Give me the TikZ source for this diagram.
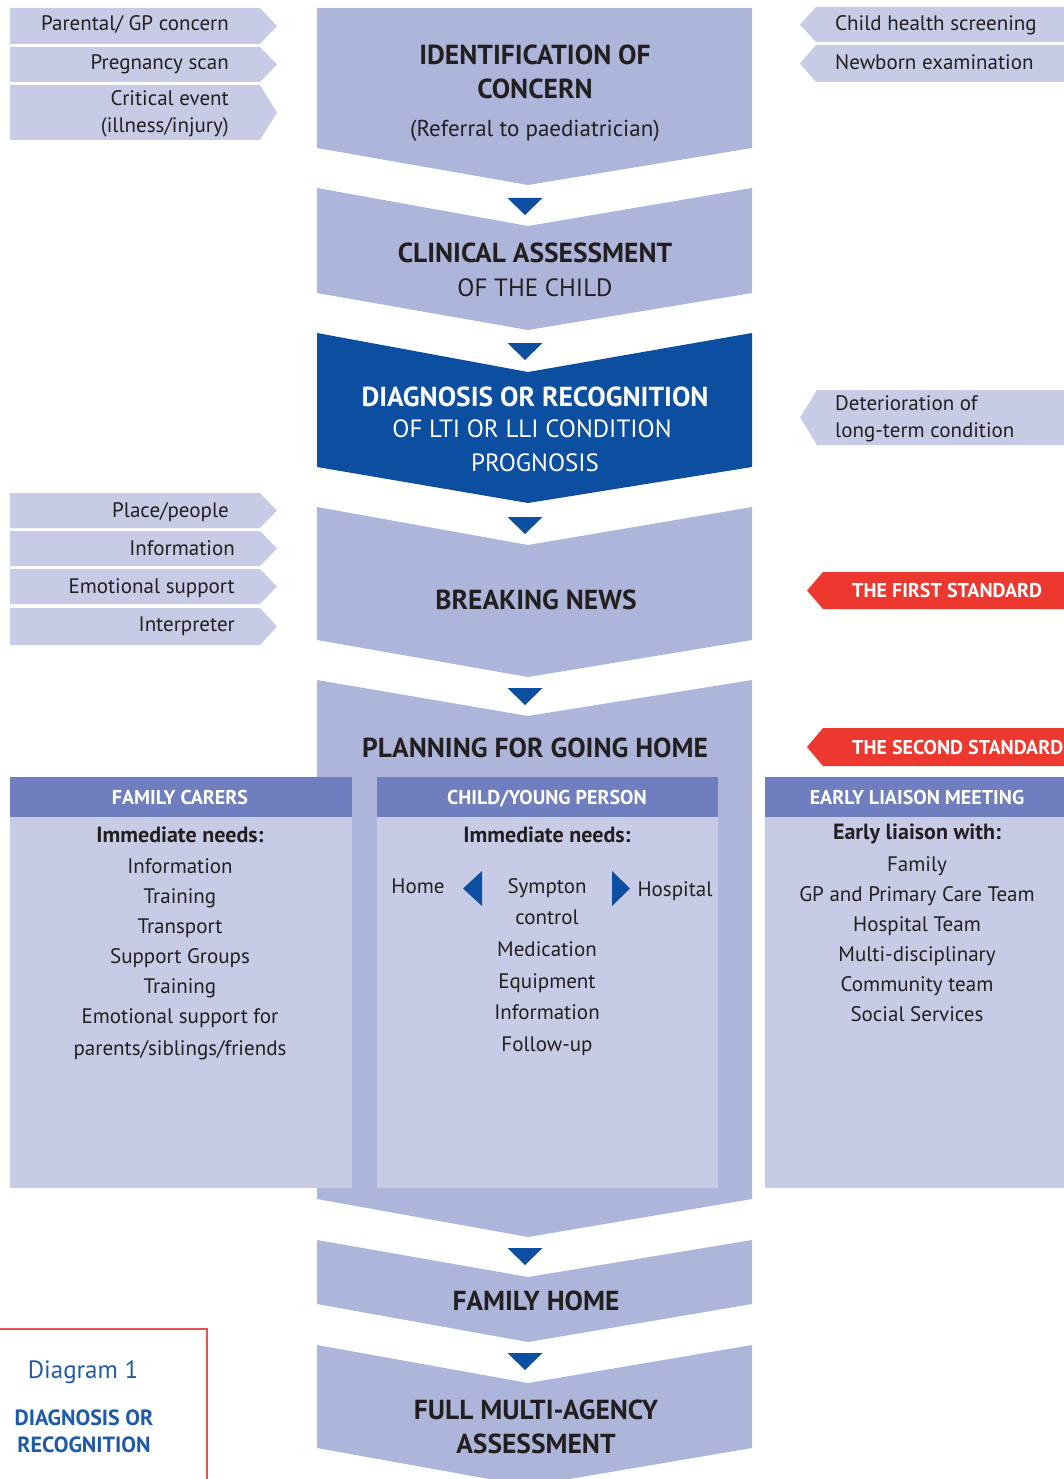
\documentclass[tikz,border=0pt]{standalone}
\usepackage{fontspec}
\setmainfont{PT Sans}
\definecolor{mainfill}{RGB}{174,181,219}
\definecolor{tagfill}{RGB}{199,203,230}
\definecolor{headfill}{RGB}{111,126,190}
\definecolor{darkblue}{RGB}{12,78,160}
\definecolor{redtag}{RGB}{237,56,48}
\definecolor{redline}{RGB}{238,80,80}
\definecolor{ink}{RGB}{35,31,32}
\definecolor{captionblue}{RGB}{30,90,166}

% chevron step of the main column: fill, top edge, notch, side bottom, point
\newcommand\chevstep[5]{\fill[#1] (317,#2) -- (528,#3) -- (752,#2) -- (752,#4) -- (528,#5) -- (317,#4) -- cycle;}
% small flow triangle below a notch
\newcommand\flowtri[1]{\fill[darkblue] (507.5,#1) -- (542.5,#1) -- (525,#1+17) -- cycle;}
% tag pointing right (left column)
\newcommand\tagleft[2]{\fill[tagfill] (10,#1) -- (260,#1) -- (277,{(#1+#2)/2}) -- (260,#2) -- (10,#2) -- cycle;}

\begin{document}
\begin{tikzpicture}[x=1pt,y=-1pt,
  lbl/.style={inner sep=0, text=ink, font=\fontsize{21}{27}\selectfont, text height=16.5pt, text depth=4.5pt},
  multi/.style={inner sep=0, text=ink, font=\fontsize{21}{27}\selectfont},
  head/.style={inner sep=0, text=ink, font=\fontsize{27.5}{32}\bfseries\selectfont, text height=19pt, text depth=1pt},
  headlight/.style={inner sep=0, text=ink, font=\fontsize{25}{30}\selectfont, text height=17.5pt, text depth=1pt},
  boxhead/.style={inner sep=0, text=white, font=\fontsize{20}{24}\bfseries\selectfont, text height=14pt, text depth=1pt},
  need/.style={inner sep=0, text=ink, font=\fontsize{22}{26}\bfseries\selectfont, text height=16pt, text depth=4.5pt},
  stdlbl/.style={inner sep=0, text=white, font=\fontsize{20}{24}\bfseries\selectfont, text height=14pt, text depth=1pt, anchor=west},
]
\useasboundingbox (0,0) rectangle (1064,1479);
\clip (0,0) rectangle (1064,1479);

% ---------- main column ----------
\fill[mainfill] (317,8) -- (752,8) -- (752,148) -- (528,185) -- (317,148) -- cycle;
\chevstep{mainfill}{188}{226}{293}{330}
\chevstep{darkblue}{333}{372}{467}{503}
\chevstep{mainfill}{507}{545}{640}{677}
\chevstep{mainfill}{680}{716}{1199}{1237}
\chevstep{mainfill}{1240}{1277}{1304}{1342}
\chevstep{mainfill}{1345}{1383}{1448}{1486}

\flowtri{198}
\flowtri{343}
\flowtri{517}
\flowtri{688}
\flowtri{1248}
\flowtri{1353}

\node[head] (id1) at (535,56) {IDENTIFICATION OF};
\node[head] (id2) at (535,90) {CONCERN};
\node[lbl, font=\fontsize{23}{27}\selectfont] (id3) at (535,131) {(Referral to paediatrician)};

\node[head] (ca1) at (535,253) {CLINICAL ASSESSMENT};
\node[headlight] (ca2) at (535,288) {OF THE CHILD};

\node[head, text=white] (dg1) at (535,397) {DIAGNOSIS OR RECOGNITION};
\node[headlight, text=white] (dg2) at (532,429) {OF LTI OR LLI CONDITION};
\node[headlight, text=white] (dg3) at (535,463) {PROGNOSIS};

\node[head] (bn) at (536,600) {BREAKING NEWS};
\node[head] (pl) at (535,748) {PLANNING FOR GOING HOME};
\node[head] (fh) at (536,1301) {FAMILY HOME};
\node[head] (fm1) at (536,1410) {FULL MULTI-AGENCY};
\node[head] (fm2) at (536,1444) {ASSESSMENT};

% ---------- left tags ----------
\tagleft{8}{44}
\tagleft{47}{82}
\tagleft{85}{140}
\node[lbl, anchor=east] (t1) at (229,25) {Parental/ GP concern};
\node[lbl, anchor=east] (t2) at (229,64) {Pregnancy scan};
\node[multi, anchor=east, align=right] (t3) at (229,114) {Critical event\\(illness/injury)};

\tagleft{493}{528}
\tagleft{531}{566}
\tagleft{569}{604}
\tagleft{608}{645}
\node[lbl, anchor=east] (b1) at (229,511) {Place/people};
\node[lbl, anchor=east] (b2) at (235,549) {Information};
\node[lbl, anchor=east] (b3) at (235,587) {Emotional support};
\node[lbl, anchor=east] (b4) at (235,625) {Interpreter};

% ---------- right tags ----------
\fill[tagfill] (1064,7) -- (816,7) -- (800,24.5) -- (816,42) -- (1064,42) -- cycle;
\fill[tagfill] (1064,45) -- (816,45) -- (800,63.5) -- (816,82) -- (1064,82) -- cycle;
\node[lbl, anchor=west] (r1) at (835,25) {Child health screening};
\node[lbl, anchor=west] (r2) at (835,64) {Newborn examination};

\fill[tagfill] (1064,390) -- (817,390) -- (800,417.5) -- (817,445) -- (1064,445) -- cycle;
\node[multi, anchor=west, align=left] (r3) at (835,419) {Deterioration of\\long-term condition};

\fill[redtag] (1064,572) -- (823,572) -- (807,590.5) -- (823,609) -- (1064,609) -- cycle;
\node[stdlbl] (s1) at (852,591) {THE FIRST STANDARD};
\fill[redtag] (1064,728) -- (823,728) -- (807,747) -- (823,766) -- (1064,766) -- cycle;
\node[stdlbl] (s2) at (852,748) {THE SECOND STANDARD};

% ---------- planning panels ----------
\fill[tagfill] (10,817) rectangle (352,1188);
\fill[headfill] (10,777) rectangle (352,817);
\fill[tagfill] (377,817) rectangle (718,1188);
\fill[headfill] (377,777) rectangle (718,817);
\fill[tagfill] (765,817) rectangle (1064,1188);
\fill[headfill] (765,777) rectangle (1064,817);

\node[boxhead] (h1) at (180,798) {FAMILY CARERS};
\node[boxhead] (h2) at (547,798) {CHILD/YOUNG PERSON};
\node[boxhead] (h3) at (917,798) {EARLY LIAISON MEETING};

\node[need] (n1) at (180,837) {Immediate needs:};
\foreach \t [count=\i] in {Information,Training,Transport,Support Groups,Training,Emotional support for}
  \node[lbl] (fc\i) at (180,837+30*\i) {\t};
\node[lbl] (fc7) at (180,1049) {parents/siblings/friends};

\node[need] (n2) at (547,837) {Immediate needs:};
\node[lbl] (home) at (418,887) {Home};
\node[lbl] (hosp) at (675,890) {Hospital};
\fill[darkblue] (482,871) -- (482,906) -- (463,888.5) -- cycle;
\fill[darkblue] (612,871) -- (612,906) -- (630,888.5) -- cycle;
\node[lbl] (cy1) at (547,887) {Sympton};
\node[lbl] (cy2) at (547,918) {control};
\node[lbl] (cy3) at (547,950) {Medication};
\node[lbl] (cy4) at (547,982) {Equipment};
\node[lbl] (cy5) at (547,1013) {Information};
\node[lbl] (cy6) at (547,1045) {Follow-up};

\node[need] (n3) at (917,834) {Early liaison with:};
\foreach \t [count=\i] in {Family,GP and Primary Care Team,Hospital Team,Multi-disciplinary,Community team,Social Services}
  \node[lbl] (el\i) at (917,835+30*\i) {\t};

% ---------- caption ----------
\draw[redline, line width=2pt] (0,1329) -- (207,1329) -- (207,1480);
\node[inner sep=0, text=captionblue, font=\fontsize{25}{29}\selectfont] (cap1) at (83,1372) {Diagram 1};
\node[inner sep=0, text=captionblue, font=\fontsize{22}{27}\bfseries\selectfont, align=center] (cap2) at (84,1431) {DIAGNOSIS OR\\RECOGNITION};
\end{tikzpicture}
\end{document}
